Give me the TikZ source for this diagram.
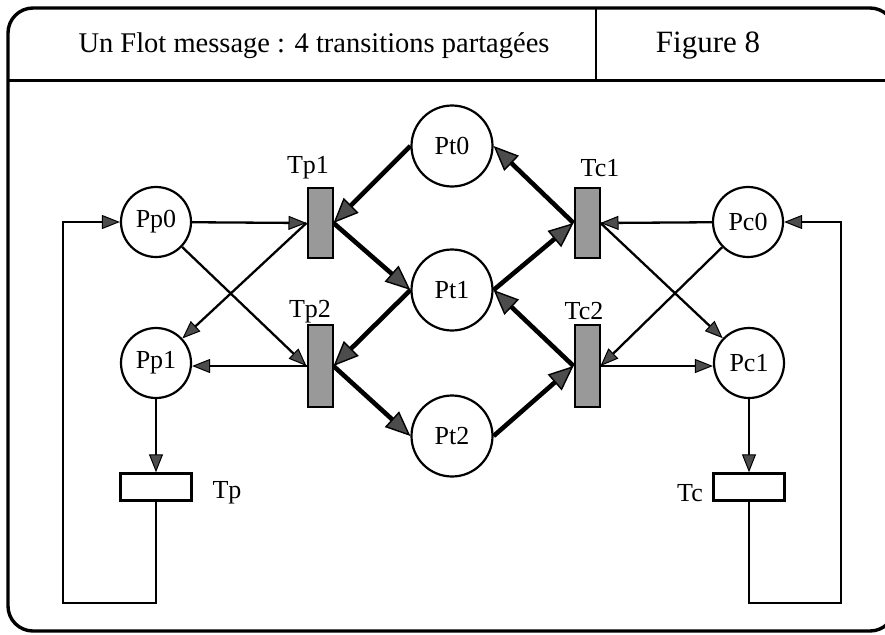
\documentclass[tikz,border=0pt]{standalone}
\usepackage{fontspec}
\setmainfont{Liberation Serif}
\usetikzlibrary{arrows.meta}
\newcommand{\labfont}{\fontsize{26}{30}\selectfont}
\tikzset{
  place/.style={circle, draw, line width=2.2pt, minimum size=70pt, inner sep=0pt, font=\labfont},
  bigplace/.style={place, minimum size=81pt},
  trans/.style={rectangle, draw, line width=2pt, fill=black!40, minimum width=25pt, inner sep=0pt},
  plaintrans/.style={rectangle, draw, line width=2.4pt, fill=white, minimum width=71pt, minimum height=27pt, inner sep=0pt},
  lbl/.style={font=\labfont, inner sep=0pt},
  thinarc/.style={line width=2.3pt, line join=miter,
    -{Triangle[length=18pt, width=14pt, line width=1pt, fill=black!70]}},
  thickarc/.style={line width=4.6pt,
    -{Triangle[length=25pt, width=21pt, line width=1.4pt, fill=black!70]}},
}
\begin{document}
\begin{tikzpicture}[x=1pt, y=-1pt]
  \useasboundingbox (0,0) rectangle (885,634);
  \fill[white] (0,0) rectangle (885,634);

  % outer frame and title band
  \draw[line width=3.4pt, rounded corners=25pt] (8,8) rectangle (895,631);
  \draw[line width=3pt] (8,80) -- (895,80);
  \draw[line width=2.4pt] (596,8) -- (596,80);
  \node (title) at (314,46) {\fontsize{28.5}{32}\selectfont Un Flot message : 4 transitions partagées};
  \node (fig) at (708,46) {\fontsize{31}{34}\selectfont Figure 8};

  % places
  \node[place] (pp0) at (156,222) {Pp0};
  \node[place] (pp1) at (156,363) {Pp1};
  \node[bigplace] (pt0) at (452,146) {Pt0};
  \node[bigplace] (pt1) at (452,290) {Pt1};
  \node[bigplace] (pt2) at (452,436) {Pt2};
  \node[place] (pc0) at (748,222) {Pc0};
  \node[place] (pc1) at (749,363) {Pc1};

  % shared transitions
  \node[trans, minimum height=70pt] (tp1) at (320,223) {};
  \node[trans, minimum height=82pt] (tp2) at (320,366) {};
  \node[trans, minimum height=70pt] (tc1) at (587,223) {};
  \node[trans, minimum height=82pt] (tc2) at (587,366) {};
  \node[lbl] (ltp1) at (308,168) {Tp1};
  \node[lbl] (ltp2) at (310,312) {Tp2};
  \node[lbl] (ltc1) at (600,168) {Tc1};
  \node[lbl] (ltc2) at (584,311) {Tc2};

  % local transitions
  \node[plaintrans] (tp) at (156,487) {};
  \node[plaintrans] (tc) at (749,487) {};
  \node[lbl] (ltp) at (227,493) {Tp};
  \node[lbl] (ltc) at (690,493) {Tc};

  % producer side
  \draw[thinarc] (pp0) -- (tp1.west);
  \draw[thinarc] (pp0) -- (tp2.west);
  \draw[thinarc] (tp1.west) -- (pp1);
  \draw[thinarc] (tp2.west) -- (tp2.west -| pp1.east);
  \draw[thinarc] (pp1.south) -- (tp.north);
  \coordinate (tpdown) at (156,603);
  \coordinate (tpleft) at (63,603);
  \draw[thinarc] (tp.south) -- (tpdown) -- (tpleft) |- (pp0.west);

  % consumer side
  \draw[thinarc] (pc0) -- (tc1.east);
  \draw[thinarc] (pc0) -- (tc2.east);
  \draw[thinarc] (tc1.east) -- (pc1);
  \draw[thinarc] (tc2.east) -- (tc2.east -| pc1.west);
  \draw[thinarc] (pc1.south) -- (tc.north);
  \coordinate (tcdown) at (749,603);
  \coordinate (tcright) at (841,603);
  \draw[thinarc] (tc.south) -- (tcdown) -- (tcright) |- (pc0.east);

  % message flow
  \draw[thickarc] (pt0.west) -- (tp1.east);
  \draw[thickarc] (tp1.east) -- (pt1.west);
  \draw[thickarc] (pt1.west) -- (tp2.east);
  \draw[thickarc] (tp2.east) -- (pt2.west);
  \draw[thickarc] (pt2.east) -- (tc2.west);
  \draw[thickarc] (tc2.west) -- (pt1.east);
  \draw[thickarc] (pt1.east) -- (tc1.west);
  \draw[thickarc] (tc1.west) -- (pt0.east);
\end{tikzpicture}
\end{document}
